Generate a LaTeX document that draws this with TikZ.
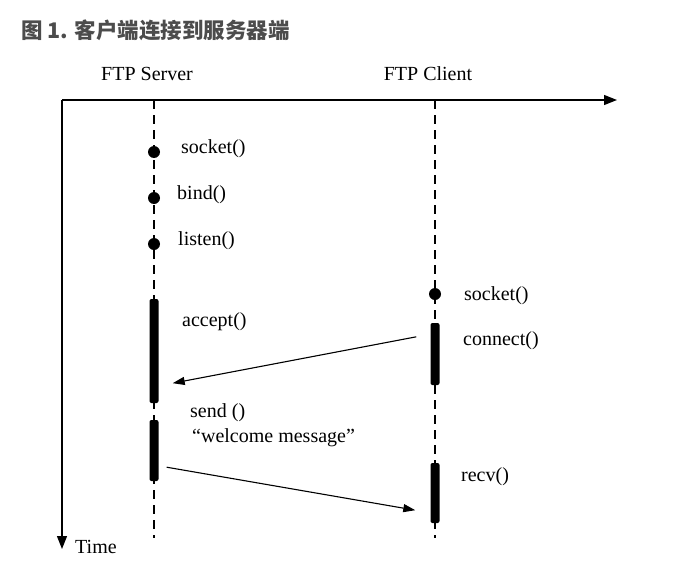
\documentclass[tikz,border=0pt]{standalone}
\usepackage{fontspec}
\setmainfont{Liberation Serif}
\newfontfamily\cjk{Noto Sans CJK SC}
\usetikzlibrary{arrows.meta}
\begin{document}
\begin{tikzpicture}[
  x=1pt, y=-1pt,
  every node/.style={font=\fontsize{20}{23}\selectfont, inner sep=0pt},
  axis/.style={line width=1.4pt, -{Triangle[length=13pt, width=10pt]}},
  lifeline/.style={line width=1.3pt, dash pattern=on 9pt off 6pt},
  event/.style={circle, fill=black, minimum size=12pt},
  active/.style={fill=black, rounded corners=2pt, minimum width=9pt},
  call/.style={anchor=west},
  msg/.style={line width=1.1pt, -{Triangle[length=12pt, width=8pt]}}
]
\useasboundingbox (0,0) rectangle (673,573);
\node[anchor=west, font=\cjk\bfseries\fontsize{21.5}{24}\selectfont, text=black!70] (title) at (21,30) {图 1. 客户端连接到服务器端};
\node (srv) at (147,74) {FTP Server};
\node (cli) at (428,74) {FTP Client};
% axes
\coordinate (origin) at (62,100);
\coordinate (xend) at (617,100);
\coordinate (tend) at (62,549);
\draw[axis] (origin) -- (xend);
\draw[axis] (origin) -- (tend);
\node[anchor=west] (time) at (75,547) {Time};
% lifelines
\coordinate (srvtop) at (154,100);
\coordinate (srvbot) at (154,538);
\coordinate (clitop) at (435,100);
\coordinate (clibot) at (435,538);
\draw[lifeline] (srvtop) -- (srvbot);
\draw[lifeline] (clitop) -- (clibot);
% server side
\node[event] (ssock) at (154,152) {};
\node[event] (sbind) at (154,198) {};
\node[event] (slisten) at (154,244) {};
\node[call] at (181,149) {socket()};
\node[call] at (177,195) {bind()};
\node[call] at (178,241) {listen()};
\node[active, minimum height=104pt] (acceptbar) at (154,351) {};
\node[call] at (182,322) {accept()};
\node[active, minimum height=61pt] (sendbar) at (154,450.5) {};
\node[call] at (190,413) {send ()};
\node[call] at (192,438) {``welcome message''};
% client side
\node[event] (csock) at (435,294) {};
\node[call] at (464,296) {socket()};
\node[active, minimum height=62pt] (connbar) at (435,354) {};
\node[call] at (463,341) {connect()};
\node[active, minimum height=60pt] (recvbar) at (435,493) {};
\node[call] at (461,477) {recv()};
% messages
\draw[msg] ([shift={(-14,14)}]connbar.north west) -- ([shift={(14,-20)}]acceptbar.south east);
\draw[msg] ([shift={(8,-14)}]sendbar.south east) -- ([shift={(-15,-13)}]recvbar.south west);
\end{tikzpicture}
\end{document}
